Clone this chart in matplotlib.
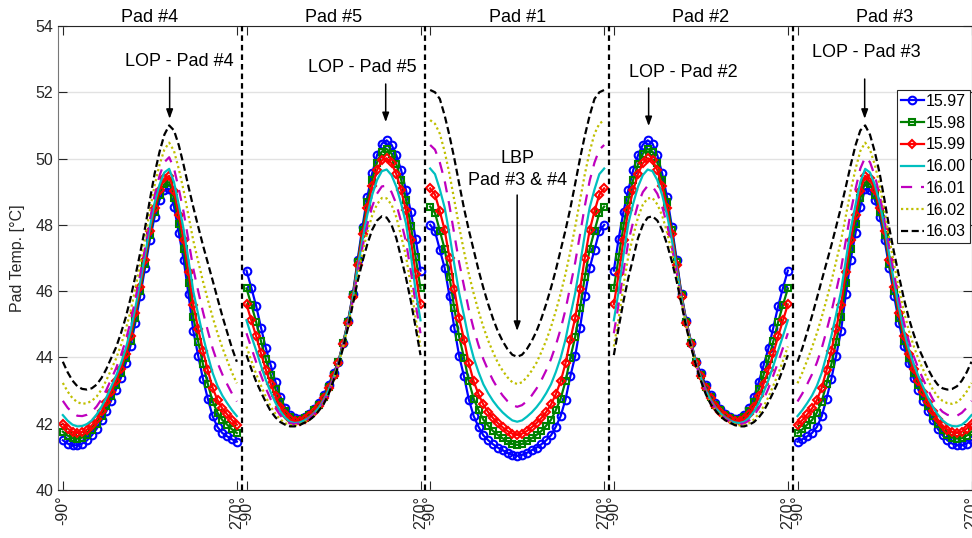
import numpy as np
import matplotlib.pyplot as plt
import matplotlib.transforms as mtransforms

plt.rcParams['font.family'] = ['Liberation Sans', 'DejaVu Sans']

# angle grid inside each pad (deg), same for every pad
angles = np.arange(-90, 271, 10)
series_labels = ['15.97', '15.98', '15.99', '16.00', '16.01', '16.02', '16.03']
pad_names = ['Pad #4', 'Pad #5', 'Pad #1', 'Pad #2', 'Pad #3']
tick_names = ['-90°', '270°']

# pad temperatures [°C], one row per series (15.97 ... 16.03)
pad4_temps = [
    [41.50, 41.40, 41.35, 41.35, 41.40, 41.50, 41.65, 41.85, 42.10, 42.38, 42.70, 43.03, 43.38, 43.82, 44.35, 45.05, 45.85, 46.70, 47.55,
     48.25, 48.75, 49.05, 49.08, 48.55, 47.75, 46.95, 45.90, 44.80, 44.05, 43.35, 42.75, 42.22, 41.90, 41.72, 41.62, 41.53, 41.46],
    [41.76, 41.64, 41.56, 41.55, 41.58, 41.67, 41.81, 42.00, 42.24, 42.52, 42.84, 43.17, 43.53, 43.97, 44.51, 45.20, 45.99, 46.83, 47.68,
     48.39, 48.91, 49.23, 49.29, 48.80, 48.04, 47.26, 46.26, 45.21, 44.48, 43.79, 43.20, 42.67, 42.33, 42.11, 41.97, 41.83, 41.72],
    [42.00, 41.85, 41.76, 41.72, 41.75, 41.82, 41.95, 42.13, 42.37, 42.65, 42.97, 43.30, 43.66, 44.11, 44.65, 45.34, 46.12, 46.95, 47.80,
     48.52, 49.05, 49.40, 49.48, 49.03, 48.31, 47.55, 46.58, 45.58, 44.87, 44.20, 43.61, 43.08, 42.71, 42.46, 42.28, 42.11, 41.97],
    [42.26, 42.09, 41.97, 41.92, 41.93, 41.99, 42.10, 42.28, 42.51, 42.79, 43.11, 43.44, 43.81, 44.26, 44.81, 45.50, 46.27, 47.08, 47.93,
     48.67, 49.21, 49.58, 49.69, 49.29, 48.60, 47.86, 46.94, 45.99, 45.30, 44.64, 44.06, 43.53, 43.14, 42.85, 42.62, 42.41, 42.23],
    [42.69, 42.48, 42.33, 42.24, 42.23, 42.27, 42.36, 42.52, 42.74, 43.02, 43.34, 43.67, 44.05, 44.51, 45.07, 45.75, 46.50, 47.30, 48.15,
     48.90, 49.48, 49.89, 50.04, 49.70, 49.08, 48.38, 47.53, 46.67, 46.00, 45.37, 44.80, 44.27, 43.84, 43.49, 43.19, 42.91, 42.67],
    [43.23, 42.97, 42.77, 42.65, 42.60, 42.62, 42.69, 42.82, 43.03, 43.31, 43.63, 43.96, 44.36, 44.83, 45.39, 46.07, 46.80, 47.58, 48.43,
     49.20, 49.81, 50.27, 50.48, 50.23, 49.68, 49.03, 48.27, 47.52, 46.90, 46.29, 45.74, 45.21, 44.73, 44.30, 43.91, 43.54, 43.22],
    [43.87, 43.55, 43.30, 43.13, 43.05, 43.03, 43.07, 43.18, 43.38, 43.65, 43.98, 44.30, 44.72, 45.20, 45.78, 46.45, 47.15, 47.90, 48.75,
     49.55, 50.20, 50.72, 51.00, 50.85, 50.40, 49.80, 49.15, 48.53, 47.95, 47.38, 46.85, 46.32, 45.78, 45.25, 44.76, 44.28, 43.87],
]

pad5_temps = [
    [46.62, 46.10, 45.55, 44.90, 44.28, 43.77, 43.26, 42.82, 42.48, 42.27, 42.17, 42.15, 42.20, 42.30, 42.45, 42.62, 42.88, 43.18, 43.52,
     43.87, 44.45, 45.10, 45.90, 46.95, 47.95, 48.85, 49.55, 50.10, 50.45, 50.55, 50.42, 50.10, 49.65, 49.05, 48.40, 47.58, 46.62],
    [46.08, 45.59, 45.07, 44.49, 43.94, 43.48, 43.04, 42.66, 42.37, 42.20, 42.12, 42.11, 42.16, 42.26, 42.40, 42.57, 42.82, 43.12, 43.47,
     43.86, 44.43, 45.08, 45.87, 46.88, 47.83, 48.69, 49.36, 49.88, 50.21, 50.29, 50.15, 49.83, 49.36, 48.76, 47.97, 47.02, 46.08],
    [45.60, 45.12, 44.64, 44.12, 43.63, 43.21, 42.83, 42.51, 42.28, 42.13, 42.07, 42.07, 42.13, 42.22, 42.36, 42.53, 42.77, 43.07, 43.43,
     43.84, 44.42, 45.05, 45.83, 46.80, 47.71, 48.52, 49.16, 49.65, 49.95, 50.01, 49.86, 49.53, 49.04, 48.44, 47.55, 46.51, 45.60],
    [45.12, 44.65, 44.21, 43.75, 43.32, 42.95, 42.63, 42.37, 42.18, 42.06, 42.02, 42.04, 42.10, 42.19, 42.32, 42.49, 42.72, 43.02, 43.39,
     43.82, 44.39, 45.02, 45.79, 46.70, 47.55, 48.31, 48.90, 49.35, 49.62, 49.67, 49.50, 49.15, 48.64, 48.04, 47.09, 46.00, 45.12],
    [44.73, 44.29, 43.86, 43.46, 43.07, 42.74, 42.47, 42.25, 42.10, 42.01, 41.99, 42.01, 42.07, 42.16, 42.29, 42.46, 42.67, 42.97, 43.36,
     43.80, 44.36, 44.98, 45.72, 46.57, 47.33, 48.01, 48.55, 48.94, 49.16, 49.18, 48.99, 48.63, 48.09, 47.49, 46.60, 45.60, 44.73],
    [44.33, 43.90, 43.50, 43.15, 42.81, 42.52, 42.30, 42.13, 42.02, 41.96, 41.95, 41.98, 42.05, 42.13, 42.25, 42.42, 42.63, 42.93, 43.32,
     43.78, 44.34, 44.95, 45.68, 46.46, 47.16, 47.78, 48.28, 48.62, 48.81, 48.80, 48.61, 48.23, 47.66, 47.06, 46.17, 45.17, 44.33],
    [44.07, 43.65, 43.27, 42.95, 42.65, 42.38, 42.19, 42.05, 41.97, 41.92, 41.92, 41.96, 42.03, 42.11, 42.23, 42.40, 42.60, 42.90, 43.30,
     43.75, 44.30, 44.90, 45.60, 46.30, 46.90, 47.42, 47.85, 48.13, 48.26, 48.22, 48.00, 47.60, 47.00, 46.40, 45.70, 44.90, 44.07],
]

pad1_temps = [
    [48.00, 47.80, 47.25, 46.70, 45.85, 44.89, 44.04, 43.43, 42.73, 42.23, 41.91, 41.65, 41.50, 41.38, 41.28, 41.20, 41.12, 41.06, 41.03,
     41.06, 41.12, 41.20, 41.28, 41.38, 41.50, 41.65, 41.91, 42.23, 42.73, 43.43, 44.04, 44.89, 45.85, 46.70, 47.25, 47.80, 48.00],
    [48.55, 48.36, 47.82, 47.27, 46.43, 45.48, 44.62, 43.99, 43.28, 42.76, 42.41, 42.12, 41.94, 41.78, 41.66, 41.56, 41.47, 41.39, 41.36,
     41.39, 41.47, 41.56, 41.66, 41.78, 41.94, 42.12, 42.41, 42.76, 43.28, 43.99, 44.62, 45.48, 46.43, 47.27, 47.82, 48.36, 48.55],
    [49.10, 48.91, 48.41, 47.84, 47.01, 46.06, 45.19, 44.54, 43.82, 43.28, 42.89, 42.58, 42.35, 42.17, 42.02, 41.89, 41.78, 41.70, 41.66,
     41.70, 41.78, 41.89, 42.02, 42.17, 42.35, 42.58, 42.89, 43.28, 43.82, 44.54, 45.19, 46.06, 47.01, 47.84, 48.41, 48.91, 49.10],
    [49.70, 49.53, 49.07, 48.52, 47.71, 46.80, 45.94, 45.26, 44.54, 43.99, 43.56, 43.19, 42.92, 42.69, 42.50, 42.34, 42.21, 42.10, 42.06,
     42.10, 42.21, 42.34, 42.50, 42.69, 42.92, 43.19, 43.56, 43.99, 44.54, 45.26, 45.94, 46.80, 47.71, 48.52, 49.07, 49.53, 49.70],
    [50.41, 50.27, 49.88, 49.33, 48.57, 47.71, 46.86, 46.15, 45.44, 44.86, 44.37, 43.95, 43.61, 43.31, 43.06, 42.85, 42.68, 42.56, 42.51,
     42.56, 42.68, 42.85, 43.06, 43.31, 43.61, 43.95, 44.37, 44.86, 45.44, 46.15, 46.86, 47.71, 48.57, 49.33, 49.88, 50.27, 50.41],
    [51.16, 51.05, 50.75, 50.21, 49.53, 48.74, 47.94, 47.20, 46.52, 45.93, 45.40, 44.92, 44.51, 44.16, 43.84, 43.60, 43.40, 43.25, 43.20,
     43.25, 43.40, 43.60, 43.84, 44.16, 44.51, 44.92, 45.40, 45.93, 46.52, 47.20, 47.94, 48.74, 49.53, 50.21, 50.75, 51.05, 51.16],
    [52.07, 52.00, 51.80, 51.30, 50.69, 50.00, 49.24, 48.50, 47.84, 47.24, 46.64, 46.10, 45.61, 45.17, 44.79, 44.49, 44.25, 44.08, 44.02,
     44.08, 44.25, 44.49, 44.79, 45.17, 45.61, 46.10, 46.64, 47.24, 47.84, 48.50, 49.24, 50.00, 50.69, 51.30, 51.80, 52.00, 52.07],
]

# pad #2 and pad #3 read as mirror images of pad #5 and pad #4
pad2_temps = [row[::-1] for row in pad5_temps]
pad3_temps = [row[::-1] for row in pad4_temps]

all_pads = [pad4_temps, pad5_temps, pad1_temps, pad2_temps, pad3_temps]

colors = ['#0000ff', '#008000', '#ff0000', '#00bfbf', '#bf00bf', '#bfbf00', '#000000']
styles = ['-', '-', '-', '-', (0, (5, 4)), (0, (1, 1.3)), (0, (3.2, 1.6))]
markers = ['o', 's', 'D', None, None, None, None]
msizes = [5.5, 5, 4.5, 0, 0, 0, 0]

PAD_SPAN = 380  # 360 deg + 20 deg gap


def xpos(pad, theta):
    return pad * PAD_SPAN + np.asarray(theta) + 100


fig = plt.figure(figsize=(9.72, 5.38), dpi=100)
ax = fig.add_axes([58 / 972, 48 / 538, 913.5 / 972, 464 / 538])

handles = []
for p, temps in enumerate(all_pads):
    for k, vals in enumerate(temps):
        ln, = ax.plot(xpos(p, angles), vals, color=colors[k], ls=styles[k], lw=1.6,
                      marker=markers[k], ms=msizes[k], mfc='none', mew=1.5,
                      label=series_labels[k])
        if p == 0:
            handles.append(ln)

for p in range(1, 5):
    ax.axvline(p * PAD_SPAN, color='k', ls=(0, (2.5, 1.8)), lw=1.6, zorder=5)

ax.set_xlim(0, 4 * PAD_SPAN + 370)
ax.set_ylim(40, 54)
ax.set_yticks(np.arange(40, 55, 2))

xt = []
xl = []
for p in range(5):
    xt += [xpos(p, -90), xpos(p, 270)]
    xl += tick_names
ax.set_xticks(xt)
ax.set_xticklabels(xl, rotation=90, fontsize=11.5, va='top', ha='center')

ax.tick_params(axis='x', direction='in', top=True, length=6.5, width=0.8, pad=4, colors='#262626')
ax.tick_params(axis='y', direction='in', right=True, length=6.5, width=0.8, labelsize=11.5, colors='#262626')
ax.yaxis.grid(True, color='#e2e2e2', lw=1)
ax.set_axisbelow(True)
for s in ['top', 'bottom', 'right']:
    ax.spines[s].set_color('#262626')
ax.spines['left'].set_color('#777777')

ax.text(-0.044, 0.5, 'Pad Temp. [°C]', transform=ax.transAxes, rotation=90,
        ha='center', va='center', fontsize=11.5, color='#262626')

trans = mtransforms.blended_transform_factory(ax.transData, ax.transAxes)
for p, name in enumerate(pad_names):
    ax.text(xpos(p, 90), 0.999, name, transform=trans, ha='center', va='bottom', fontsize=13)

arrow = dict(arrowstyle='-|>,head_length=0.55,head_width=0.2', color='k', lw=1.1,
             shrinkA=0, shrinkB=0, mutation_scale=10)

# annotations: (pad, text theta, text y, arrow theta, tail y, tip y, text)
notes = [
    (0, 150, 52.94, 131, 52.45, 51.2, 'LOP - Pad #4'),
    (1, 149, 52.76, 198, 52.25, 51.1, 'LOP - Pad #5'),
    (2, 90, 49.66, 90, 48.9, 44.8, 'LBP\nPad #3 & #4'),
    (3, 53, 52.61, -18, 52.13, 50.98, 'LOP - Pad #2'),
    (4, 52, 53.19, 49, 52.4, 51.2, 'LOP - Pad #3'),
]
for p, tth, ty, ath, y0, y1, txt in notes:
    ax.text(xpos(p, tth), ty, txt, ha='center', va='center', fontsize=13, linespacing=1.4)
    ax.annotate('', xy=(xpos(p, ath), y1), xytext=(xpos(p, ath), y0), arrowprops=arrow)

leg = ax.legend(handles=handles, loc='upper right', bbox_to_anchor=(0.9985, 0.862),
                fontsize=11.5, frameon=True, fancybox=False, framealpha=1,
                edgecolor='#262626', handlelength=1.4, handletextpad=0.15,
                borderpad=0.25, labelspacing=0.42, borderaxespad=0, numpoints=1)
leg.get_frame().set_linewidth(0.8)
leg.set_zorder(10)

fig.savefig('out.png', dpi=100)
